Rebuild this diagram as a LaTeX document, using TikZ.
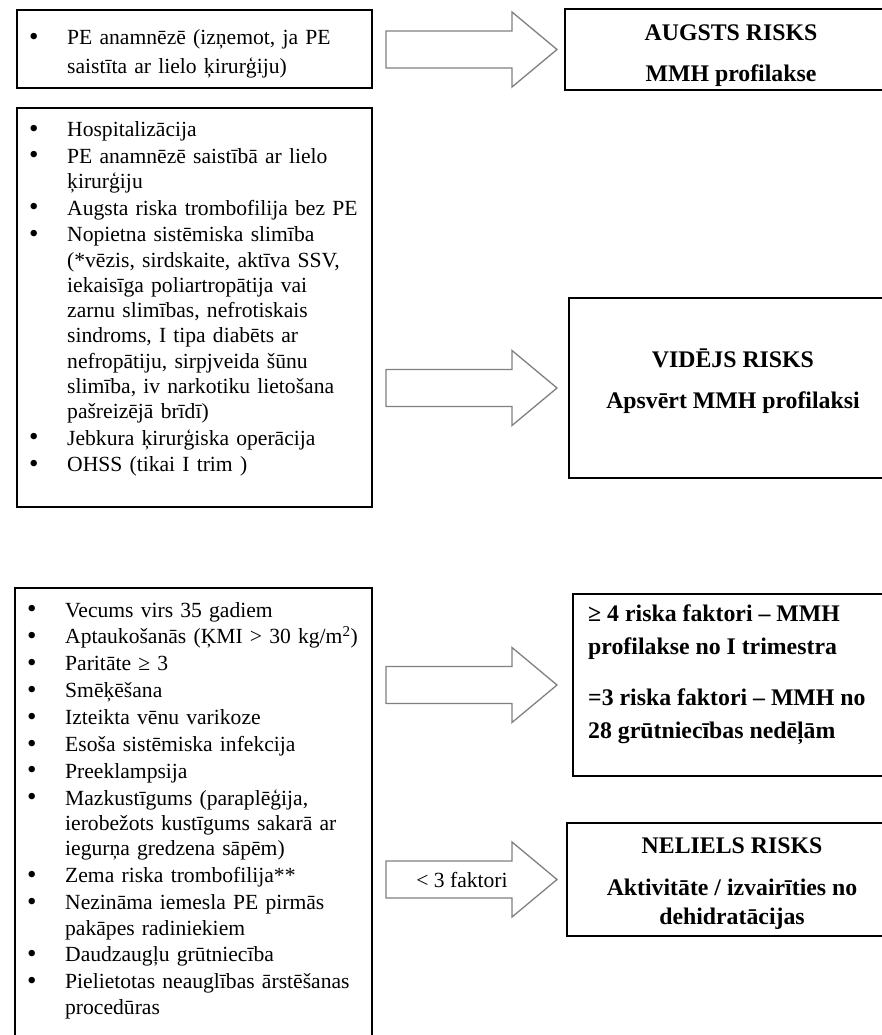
\documentclass[tikz,border=0pt]{standalone}
\usepackage{fontspec}
\setmainfont{Liberation Serif}
\usetikzlibrary{positioning}

\newcommand{\riskitem}[1]{\noindent\hangindent=50pt\hangafter=1\hspace*{12pt}\makebox[38pt][l]{\raisebox{-0.5pt}{\fontsize{27}{27}\selectfont\textbullet}}#1\par}

\tikzset{
    riskbox/.style={draw=black, line width=2pt, inner sep=0pt},
    listtext/.style={inner sep=0pt, text width=355pt, align=left},
    risktext/.style={inner sep=0pt, font=\bfseries\fontsize{23.8}{29}\selectfont, align=center},
    arrowline/.style={draw=gray, line width=1.3pt, fill=white},
    blockarrow/.pic={
        \path[arrowline] (0,0) -- (-45,-37.5) -- (-45,-18.5) -- (-171,-18.5)
            -- (-171,18.5) -- (-45,18.5) -- (-45,37.5) -- cycle;
    }
}

\begin{document}
\begin{tikzpicture}[x=1pt,y=-1pt]
\useasboundingbox (0,0) rectangle (882,1035);
\clip (0,0) rectangle (882,1035);

% left: risk factor boxes
\node[riskbox, minimum width=355pt, minimum height=78pt] (augstsfakt) at (194.5,49) {};
\node[riskbox, minimum width=355pt, minimum height=399pt] (vidfakt) at (194.5,307.5) {};
\node[riskbox, minimum width=357pt, minimum height=472pt] (mazfakt) at (193.5,824) {};

\node[listtext, anchor=base west, font=\fontsize{21.6}{29}\selectfont] (augstslist) at (17,45) {%
    \riskitem{PE anamnēzē (izņemot, ja PE\newline saistīta ar lielo ķirurģiju)}};

\node[listtext, anchor=base west, font=\fontsize{21.6}{25.3}\selectfont] (vidlist) at (17,137) {%
    \setlength{\parskip}{1.2pt}%
    \riskitem{Hospitalizācija}
    \riskitem{PE anamnēzē saistībā ar lielo\newline ķirurģiju}
    \riskitem{Augsta riska trombofilija bez PE}
    \riskitem{Nopietna sistēmiska slimība\newline (*vēzis, sirdskaite, aktīva SSV,\newline iekaisīga poliartropātija vai\newline zarnu slimības, nefrotiskais\newline sindroms, I tipa diabēts ar\newline nefropātiju, sirpjveida šūnu\newline slimība, iv narkotiku lietošana\newline pašreizējā brīdī)}
    \riskitem{Jebkura ķirurģiska operācija}
    \riskitem{OHSS (tikai I trim )}};

\node[listtext, anchor=base west, font=\fontsize{21.6}{25.3}\selectfont] (mazlist) at (15,617) {%
    \setlength{\parskip}{1.6pt}%
    \riskitem{Vecums virs 35 gadiem}
    \riskitem{Aptaukošanās (ĶMI > 30 kg/m\textsuperscript{2})}
    \riskitem{Paritāte ≥ 3}
    \riskitem{Smēķēšana}
    \riskitem{Izteikta vēnu varikoze}
    \riskitem{Esoša sistēmiska infekcija}
    \riskitem{Preeklampsija}
    \riskitem{Mazkustīgums (paraplēģija,\newline ierobežots kustīgums sakarā ar\newline iegurņa gredzena sāpēm)}
    \riskitem{Zema riska trombofilija**}
    \riskitem{Nezināma iemesla PE pirmās\newline pakāpes radiniekiem}
    \riskitem{Daudzaugļu grūtniecība}
    \riskitem{Pielietotas neauglības ārstēšanas\newline procedūras}};

% right: risk level boxes
\node[riskbox, minimum width=332pt, minimum height=81pt] (augsts) at (731,49.5) {};
\node[riskbox, minimum width=328pt, minimum height=180pt] (videjs) at (733,388) {};
\node[riskbox, minimum width=324pt, minimum height=182pt] (faktori) at (735,685) {};
\node[riskbox, minimum width=330pt, minimum height=113pt] (neliels) at (732,879.5) {};

\node[risktext, anchor=base] (augststxt) at (731,82) {AUGSTS RISKS\\[12pt]MMH profilakse};
\node[risktext, anchor=base] (videjstxt) at (733,408) {VIDĒJS RISKS\\[12pt]Apsvērt MMH profilaksi};
\node[risktext, anchor=base west, align=left, font=\bfseries\fontsize{23.8}{33}\selectfont] (faktoritxt) at (588,738)
    {≥ 4 riska faktori – MMH\\profilakse no I trimestra\\[18pt]=3 riska faktori – MMH no\\28 grūtniecības nedēļām};
\node[risktext, anchor=base] (nelielstxt) at (732,924) {NELIELS RISKS\\[13pt]Aktivitāte / izvairīties no\\dehidratācijas};

% block arrows
\pic at ([xshift=-7]augsts.west) {blockarrow};
\pic at ([xshift=-11]videjs.west) {blockarrow};
\pic at ([xshift=-15]faktori.west) {blockarrow};
\pic at ([xshift=-9]neliels.west) {blockarrow};
\node[inner sep=0pt, font=\fontsize{21.6}{25}\selectfont] (maz3) at (462,880) {< 3 faktori};

\end{tikzpicture}
\end{document}
